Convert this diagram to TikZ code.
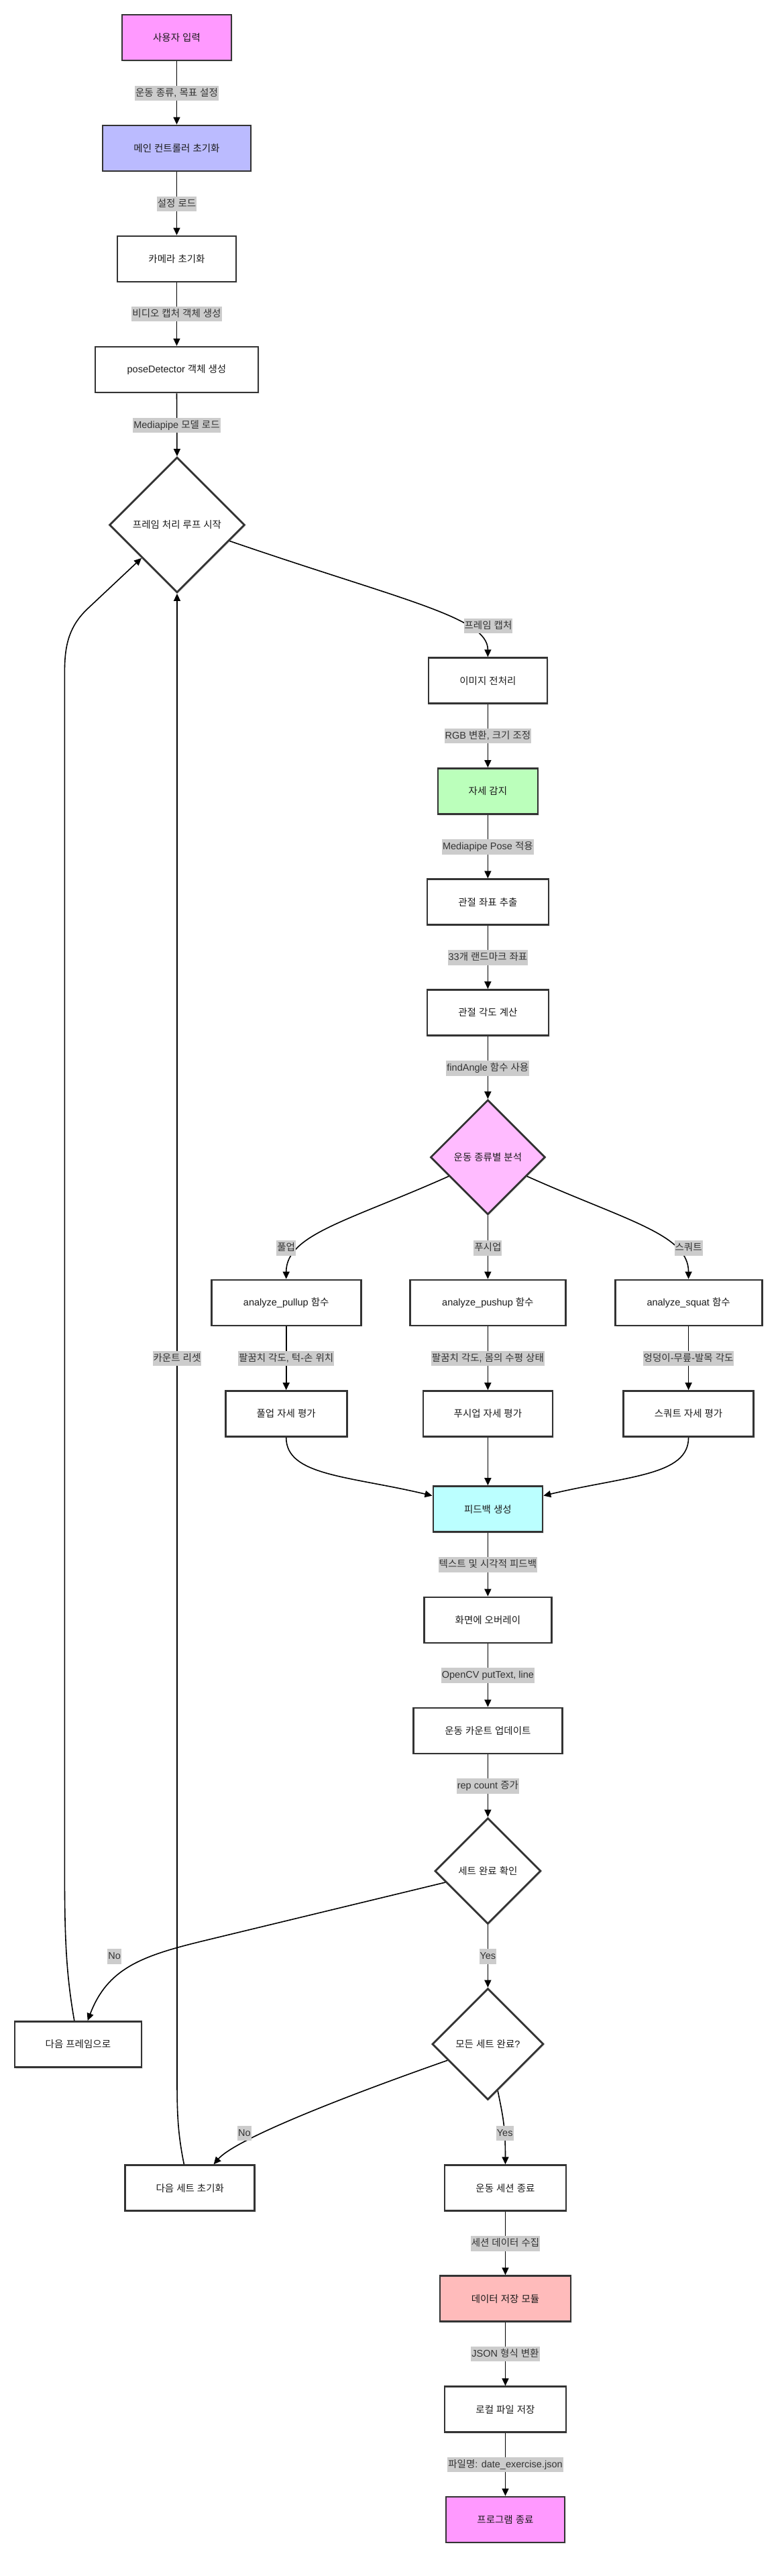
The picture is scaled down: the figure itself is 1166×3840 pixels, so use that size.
\documentclass[tikz,border=0pt]{standalone}
\usepackage{fontspec}
\setmainfont{Liberation Sans}
\newfontfamily\krfont{Noto Sans CJK KR}
\newXeTeXintercharclass\KRclass
\newcount\krc
\krc="AC00
\loop
  \XeTeXcharclass\krc=\KRclass
  \ifnum\krc<"D7A3
  \advance\krc by 1
\repeat
\XeTeXinterchartoks 0 \KRclass = {\krfont}
\XeTeXinterchartoks 4095 \KRclass = {\krfont}
\XeTeXinterchartoks \KRclass 0 = {\rmfamily}
\XeTeXinterchartoks \KRclass 4095 = {\rmfamily}
\XeTeXinterchartokenstate=1
\usetikzlibrary{shapes.geometric,arrows.meta,shadows}
\definecolor{boxline}{HTML}{333333}
\definecolor{textc}{HTML}{1A1A1A}
\definecolor{labeltext}{HTML}{333333}
\definecolor{labelbg}{HTML}{CCCCCC}
\definecolor{cstart}{HTML}{FF99FF}
\definecolor{cmain}{HTML}{BBBBFF}
\definecolor{cpose}{HTML}{BBFFBB}
\definecolor{canal}{HTML}{FFBBFF}
\definecolor{cfeed}{HTML}{BBFFFF}
\definecolor{cdata}{HTML}{FFBBBB}
\newcommand\myfnt{\fontsize{14.5}{17}\selectfont}
\begin{document}
\begin{tikzpicture}[x=1pt,y=-1pt,
  box/.style={draw=boxline, line width=2.8pt, fill=white, minimum height=68pt, inner sep=0pt,
    text=textc, font=\myfnt, drop shadow={opacity=0.15, shadow xshift=2pt, shadow yshift=-2pt}},
  dia/.style={diamond, aspect=1, draw=boxline, line width=2.8pt, fill=white, inner sep=0pt,
    text=textc, font=\myfnt, drop shadow={opacity=0.15, shadow xshift=2pt, shadow yshift=-2pt}},
  lbl/.style={fill=labelbg, text=labeltext, inner xsep=1pt, inner ysep=3pt,
    text height=12.5pt, text depth=4pt, font=\myfnt},
  arr/.style={draw=black, line width=1.6pt, -{Triangle[length=11pt,width=10pt]}}]
\useasboundingbox (0,0) rectangle (1166,3840);
\fill[white] (0,0) rectangle (1166,3840);

% main column
\node[box, fill=cstart, minimum width=163pt] (n1) at (263.5,56) {사용자 입력};
\node[box, fill=cmain, minimum width=221pt] (n2) at (263.5,221) {메인 컨트롤러 초기화};
\node[box, minimum width=177pt] (n3) at (263.5,386) {카메라 초기화};
\node[box, minimum width=243pt] (n4) at (263.5,551) {poseDetector 객체 생성};
\node[dia, minimum width=202pt, minimum height=202pt] (d1) at (264,782.5) {프레임 처리 루프 시작};

\node[box, minimum width=177pt] (n5) at (727.4,1014.7) {이미지 전처리};
\node[box, fill=cpose, minimum width=149pt] (n6) at (727.4,1179.5) {자세 감지};
\node[box, minimum width=181pt] (n7) at (727.4,1344.7) {관절 좌표 추출};
\node[box, minimum width=181pt] (n8) at (727.4,1509.5) {관절 각도 계산};
\node[dia, fill=canal, minimum width=171pt, minimum height=171pt] (d2) at (727.4,1725) {운동 종류별 분석};

\node[box, minimum width=223pt] (n9) at (426.7,1942) {analyze\_pullup 함수};
\node[box, minimum width=232pt] (n10) at (727.4,1942) {analyze\_pushup 함수};
\node[box, minimum width=219pt] (n11) at (1026.6,1942) {analyze\_squat 함수};
\node[box, minimum width=181pt] (n12) at (426.7,2107.5) {풀업 자세 평가};
\node[box, minimum width=193pt] (n13) at (727.4,2107.5) {푸시업 자세 평가};
\node[box, minimum width=194pt] (n14) at (1026.6,2107.5) {스쿼트 자세 평가};
\node[box, fill=cfeed, minimum width=163pt] (n15) at (727.4,2249.6) {피드백 생성};
\node[box, minimum width=190pt] (n16) at (727.4,2415) {화면에 오버레이};
\node[box, minimum width=222pt] (n17) at (727.4,2580) {운동 카운트 업데이트};
\node[dia, minimum width=158pt, minimum height=158pt] (d3) at (727.4,2789) {세트 완료 확인};

\node[box, minimum width=189pt] (n18) at (116.4,3047.5) {다음 프레임으로};
\node[dia, minimum width=166pt, minimum height=166pt] (d4) at (727.4,3047) {모든 세트 완료?};
\node[box, minimum width=193pt] (n19) at (283.3,3261.7) {다음 세트 초기화};
\node[box, minimum width=181pt] (n20) at (753.5,3261.7) {운동 세션 종료};
\node[box, fill=cdata, minimum width=195pt] (n21) at (753.5,3426.7) {데이터 저장 모듈};
\node[box, minimum width=181pt] (n22) at (753.5,3591.8) {로컬 파일 저장};
\node[box, fill=cstart, minimum width=177pt] (n23) at (753.5,3756) {프로그램 종료};

% connectors
\draw[arr] (n1) -- (n2);
\draw[arr] (n2) -- (n3);
\draw[arr] (n3) -- (n4);
\draw[arr] (n4.south) -- (d1.north);
\draw[arr] (d1.-17) .. controls (600,895) and (727.4,920) .. (n5.north);
\draw[arr] (n5) -- (n6);
\draw[arr] (n6) -- (n7);
\draw[arr] (n7) -- (n8);
\draw[arr] (n8.south) -- (d2.north);
\draw[arr] (d2.206) .. controls (520,1820) and (426.7,1840) .. (n9.north);
\draw[arr] (d2.south) -- (n10.north);
\draw[arr] (d2.-26) .. controls (934.8,1820) and (1026.6,1840) .. (n11.north);
\draw[arr] (n9) -- (n12);
\draw[arr] (n10) -- (n13);
\draw[arr] (n11) -- (n14);
\draw[arr] (n12.south) .. controls (426.7,2200) and (520,2200) .. ([yshift=20pt]n15.west);
\draw[arr] (n13) -- (n15);
\draw[arr] (n14.south) .. controls (1026.6,2200) and (935,2200) .. ([yshift=20pt]n15.east);
\draw[arr] (n15) -- (n16);
\draw[arr] (n16) -- (n17);
\draw[arr] (n17.south) -- (d3.north);
\draw[arr] (d3.195) -- (300,2894) .. controls (210,2916) and (160,2935) .. ([xshift=14.3pt]n18.north);
\draw[arr] (d3.south) -- (d4.north);
\draw[arr] (d4.202) .. controls (500,3130) and (350,3190) .. ([xshift=35.3pt]n19.north);
\draw[arr] (d4.-78) .. controls (750,3155) and (753.5,3170) .. (n20.north);
\draw[arr] (n20) -- (n21);
\draw[arr] (n21) -- (n22);
\draw[arr] (n22) -- (n23);
\draw[arr] ([xshift=-5.6pt]n18.north) .. controls (100,2950) and (96.4,2900) .. (96.4,2800)
   -- (96.4,1000) .. controls (96.4,960) and (104,933) .. (130,908) -- (d1.223);
\draw[arr] ([xshift=-8.9pt]n19.north) .. controls (265,3180) and (264,3150) .. (264,3100) -- (d1.south);

% labels
\node[lbl] (l1) at (263.5,139) {운동 종류, 목표 설정};
\node[lbl] (l2) at (263.5,304) {설정 로드};
\node[lbl] (l3) at (263.5,468) {비디오 캡처 객체 생성};
\node[lbl] (l4) at (263.5,634) {Mediapipe 모델 로드};
\node[lbl] (l5) at (728,933) {프레임 캡처};
\node[lbl] (l6) at (727.4,1097) {RGB 변환, 크기 조정};
\node[lbl] (l7) at (727.4,1262.7) {Mediapipe Pose 적용};
\node[lbl] (l8) at (727.4,1427.4) {33개 랜드마크 좌표};
\node[lbl] (l9) at (727.4,1592.4) {findAngle 함수 사용};
\node[lbl] (l10) at (426.7,1860.5) {풀업};
\node[lbl] (l11) at (727.4,1860.5) {푸시업};
\node[lbl] (l12) at (1026.6,1860.5) {스쿼트};
\node[lbl] (l13) at (426.7,2025) {팔꿈치 각도, 턱-손 위치};
\node[lbl] (l14) at (727.4,2025) {팔꿈치 각도, 몸의 수평 상태};
\node[lbl] (l15) at (1026.6,2025) {엉덩이-무릎-발목 각도};
\node[lbl] (l16) at (264,2025) {카운트 리셋};
\node[lbl] (l17) at (727.4,2332.7) {텍스트 및 시각적 피드백};
\node[lbl] (l18) at (727.4,2497.6) {OpenCV putText, line};
\node[lbl] (l19) at (727.4,2662.5) {rep count 증가};
\node[lbl] (l20) at (170.7,2916.7) {No};
\node[lbl] (l21) at (727.4,2916.7) {Yes};
\node[lbl] (l22) at (364.5,3180) {No};
\node[lbl] (l23) at (752.7,3180) {Yes};
\node[lbl] (l24) at (753.5,3344.5) {세션 데이터 수집};
\node[lbl] (l25) at (753.5,3509) {JSON 형식 변환};
\node[lbl] (l26) at (753.5,3674) {파일명: date\_exercise.json};
\end{tikzpicture}
\end{document}
